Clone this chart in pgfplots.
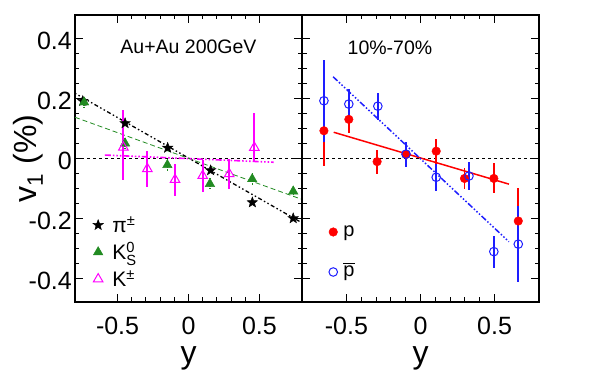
\documentclass[border=0pt]{standalone}
\usepackage{fontspec}
\setmainfont{Liberation Sans}
\usepackage{amsmath}
\usepackage{pgfplots}
\pgfplotsset{compat=1.18}
\usetikzlibrary{plotmarks}
\definecolor{kgreen}{RGB}{34,139,34}
\definecolor{pblue}{RGB}{30,30,255}
\definecolor{kmag}{RGB}{255,0,255}
\definecolor{pred}{RGB}{255,0,0}

\pgfdeclareplotmark{fstar}{%
 \pgfpathmoveto{\pgfpointpolar{90}{\pgfplotmarksize}}%
 \pgfpathlineto{\pgfpointpolar{126}{0.42\pgfplotmarksize}}%
 \pgfpathlineto{\pgfpointpolar{162}{\pgfplotmarksize}}%
 \pgfpathlineto{\pgfpointpolar{198}{0.42\pgfplotmarksize}}%
 \pgfpathlineto{\pgfpointpolar{234}{\pgfplotmarksize}}%
 \pgfpathlineto{\pgfpointpolar{270}{0.42\pgfplotmarksize}}%
 \pgfpathlineto{\pgfpointpolar{306}{\pgfplotmarksize}}%
 \pgfpathlineto{\pgfpointpolar{342}{0.42\pgfplotmarksize}}%
 \pgfpathlineto{\pgfpointpolar{18}{\pgfplotmarksize}}%
 \pgfpathlineto{\pgfpointpolar{54}{0.42\pgfplotmarksize}}%
 \pgfpathclose
 \pgfusepathqfillstroke}

\pgfplotsset{
 panel/.style={
  scale only axis, height=287pt,
  xmin=-0.8, xmax=0.8, ymin=-0.48, ymax=0.477,
  axis line style={line width=2pt},
  tick align=inside,
  xtick={-0.5,0,0.5}, minor x tick num=4,
  ytick={-0.4,-0.2,0,0.2,0.4}, minor y tick num=3,
  major tick length=8pt, minor tick length=4.5pt,
  every tick/.append style={line width=1pt, black},
  /pgf/number format/assume math mode=true,
  tick label style={font=\fontsize{25}{28}\selectfont, inner sep=0pt},
  xticklabel style={anchor=north, yshift=-15pt},
  yticklabel style={anchor=east, xshift=-3pt, yshift=-3pt},
  xlabel={y},
  xlabel style={font=\fontsize{32}{36}\selectfont, inner sep=0pt, at={(axis description cs:0.5,-0.213)}, anchor=base},
  legend cell align=left,
  error bars/error mark=none,
 }
}

\begin{document}
\begin{tikzpicture}
\useasboundingbox (0,0) rectangle (600pt,375pt);

% ---------------- left panel ----------------
\begin{axis}[panel, width=227pt, at={(75pt,73pt)}, anchor=south west,
  ylabel={v$_{\text{1}}$ (\%)},
  ylabel style={font=\fontsize{32}{36}\selectfont, inner sep=0pt, at={(axis description cs:-0.1718,0.5)}, anchor=base},
  legend image code/.code={\draw[#1] plot coordinates {(0pt,0pt)}; \path (-5pt,0pt) (14pt,0pt);},
  legend style={draw=none, fill=none, at={(0.079,0.315)}, anchor=north west, inner sep=0pt, outer sep=0pt,
    row sep=0pt, column sep=0pt, font=\fontsize{21}{24}\selectfont,
    nodes={inner sep=0pt, text height=21pt, text depth=6pt}},
]
\addplot[black, line width=0.8pt, dashed, forget plot] coordinates {(-0.8,0) (0.8,0)};
\addplot[black, line width=1.3pt, dash pattern=on 1.5pt off 2.5pt on 1.5pt off 2.5pt on 4pt off 2.5pt, forget plot] coordinates {(-0.8,0.216) (0.8,-0.216)};
\addplot[kgreen, line width=0.8pt, dash pattern=on 5pt off 3pt, forget plot] coordinates {(-0.8,0.136) (0.8,-0.138)};
\addplot[kmag, line width=1.6pt, dash pattern=on 6pt off 2pt on 1.5pt off 2pt on 1.5pt off 2pt on 1.5pt off 2pt, forget plot] coordinates {(-0.59,0.010) (0.60,-0.014)};

\addplot[only marks, mark=fstar, mark size=5.5pt, black,
  error bars/.cd, y dir=both, y explicit, error bar style={line width=1pt}]
  coordinates {
  (-0.745,0.190) +- (0,0.006)
  (-0.447,0.116) +- (0,0.006)
  (-0.147,0.034) +- (0,0.006)
  (0.156,-0.041) +- (0,0.006)
  (0.450,-0.148) +- (0,0.006)
  (0.738,-0.201) +- (0,0.006)
  };
\addlegendentry{π$^{\text{±}}$}

\addplot[only marks, mark=triangle*, mark size=5.5pt, kgreen,
  error bars/.cd, y dir=both, y explicit, error bar style={line width=1.2pt, densely dotted}]
  coordinates {
  (-0.736,0.186) +- (0,0.02)
  (-0.447,0.049) +- (0,0.02)
  (-0.149,-0.023) +- (0,0.02)
  (0.151,-0.086) +- (0,0.02)
  (0.449,-0.070) +- (0,0.02)
  (0.738,-0.111) +- (0,0.02)
  };
\addlegendentry{K$^{\text{0}}_{\text{S}}$}

\addplot[only marks, mark=triangle, mark size=5.5pt, kmag, mark options={fill=white, line width=1pt},
  error bars/.cd, y dir=both, y explicit, error bar style={line width=1.8pt}]
  coordinates {
  (-0.459,0.036) += (0,0.124) -= (0,0.109)
  (-0.290,-0.036) +- (0,0.060)
  (-0.095,-0.072) +- (0,0.053)
  (0.100,-0.059) +- (0,0.053)
  (0.287,-0.053) +- (0,0.050)
  (0.464,0.035) += (0,0.114) -= (0,0.047)
  };
\addlegendentry{K$^{\text{±}}$}

\node[font=\fontsize{19.5}{22}\selectfont] at (rel axis cs:0.5,0.888) {Au+Au 200GeV};
\end{axis}

% ---------------- right panel ----------------
\begin{axis}[panel, width=237pt, at={(302pt,73pt)}, anchor=south west,
  yticklabels={},
  legend image code/.code={\draw[#1] plot coordinates {(0pt,0pt)}; \path (-4.5pt,0pt) (10pt,0pt);},
  legend style={draw=none, fill=none, at={(0.112,0.3136)}, anchor=north west, inner sep=0pt, outer sep=0pt,
    row sep=0pt, column sep=0pt, font=\fontsize{20}{24}\selectfont,
    nodes={inner sep=0pt, text height=25pt, text depth=15pt}},
]
\addplot[black, line width=0.8pt, dashed, forget plot] coordinates {(-0.8,0) (0.8,0)};
\addplot[pred, line width=1.5pt, forget plot] coordinates {(-0.586,0.086) (0.597,-0.087)};
\addplot[pblue, line width=1.5pt, dash pattern=on 6pt off 2pt on 1.5pt off 2pt on 1.5pt off 2pt on 1.5pt off 2pt, forget plot] coordinates {(-0.59,0.271) (0.597,-0.279)};

\addplot[only marks, mark=*, mark size=4.3pt, pred,
  error bars/.cd, y dir=both, y explicit, error bar style={line width=1.8pt}]
  coordinates {
  (-0.652,0.091) +- (0,0.118)
  (-0.484,0.129) +- (0,0.047)
  (-0.293,-0.012) +- (0,0.040)
  (-0.097,0.012) +- (0,0.040)
  (0.106,0.023) +- (0,0.042)
  (0.297,-0.068) +- (0,0.035)
  (0.495,-0.068) +- (0,0.050)
  (0.660,-0.210) +- (0,0.110)
  };
\addlegendentry{p}

\addplot[only marks, mark=o, mark size=4.3pt, pblue, mark options={line width=1pt},
  error bars/.cd, y dir=both, y explicit, error bar style={line width=1.8pt}]
  coordinates {
  (-0.652,0.191) +- (0,0.136)
  (-0.484,0.180) +- (0,0.050)
  (-0.288,0.173) +- (0,0.045)
  (-0.098,0.013) +- (0,0.042)
  (0.106,-0.064) +- (0,0.045)
  (0.327,-0.060) +- (0,0.047)
  (0.495,-0.312) +- (0,0.053)
  (0.660,-0.287) +- (0,0.126)
  };
\addlegendentry{\ensuremath{\overline{\mbox{p}}}}

\node[font=\fontsize{19.5}{22}\selectfont] at (rel axis cs:0.371,0.885) {10\%-70\%};
\end{axis}
\end{tikzpicture}
\end{document}
